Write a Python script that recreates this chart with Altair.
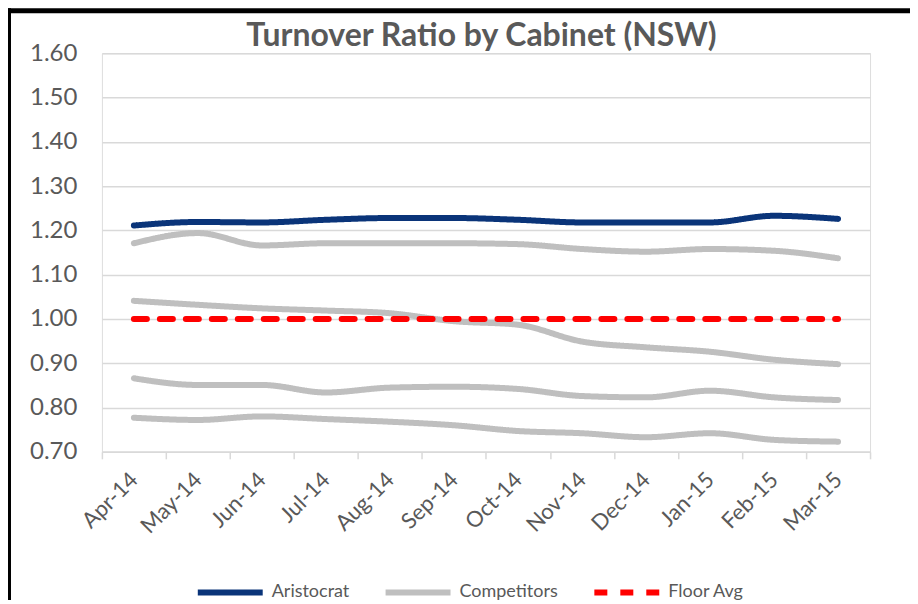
import altair as alt
import pandas as pd

months = ["Apr-14", "May-14", "Jun-14", "Jul-14", "Aug-14", "Sep-14",
          "Oct-14", "Nov-14", "Dec-14", "Jan-15", "Feb-15", "Mar-15"]
aristocrat = [1.211, 1.219, 1.218, 1.224, 1.228, 1.228, 1.224, 1.218, 1.218, 1.218, 1.233, 1.226]
comp_a = [1.171, 1.194, 1.166, 1.171, 1.171, 1.171, 1.169, 1.158, 1.152, 1.158, 1.154, 1.137]
comp_b = [1.041, 1.032, 1.024, 1.019, 1.013, 0.995, 0.987, 0.949, 0.936, 0.926, 0.908, 0.898]
comp_c = [0.866, 0.851, 0.851, 0.834, 0.845, 0.847, 0.842, 0.826, 0.823, 0.838, 0.823, 0.817]
comp_d = [0.777, 0.772, 0.780, 0.774, 0.768, 0.760, 0.747, 0.742, 0.733, 0.742, 0.727, 0.723]
floor_avg = [1.00, 1.00, 1.00, 1.00, 1.00, 1.00, 1.00, 1.00, 1.00, 1.00, 1.00, 1.00]
title_text = "Turnover Ratio by Cabinet (NSW)"

series_names = ["Aristocrat", "Competitors", "Floor Avg"]
series_colors = ["#0a3479", "#bfbfbf", "#ff0000"]
series_dash = [[1, 0], [1, 0], [13, 13]]

rows = []
for lid, (ser, vals) in enumerate([
    ("Competitors", comp_a), ("Competitors", comp_b), ("Competitors", comp_c),
    ("Competitors", comp_d), ("Aristocrat", aristocrat), ("Floor Avg", floor_avg)]):
    for m, v in zip(months, vals):
        rows.append({"month": m, "value": v, "series": ser, "line": f"{ser}-{lid}"})
df = pd.DataFrame(rows)

FONT = "Lato"
GREY_TXT = "#595959"
W, H = 769, 399

x_enc = alt.X("month:O", sort=months, bandPosition=0.5,
              scale=alt.Scale(type="band", paddingInner=0, paddingOuter=0),
              axis=alt.Axis(title=None, labelAngle=-45, labelAlign="right", labelBaseline="middle",
                            labelFontSize=22, labelFont=FONT,
                            labelColor=GREY_TXT, domainColor="#d9d9d9", domainWidth=1.5,
                            tickColor="#d9d9d9", tickWidth=1.5, tickSize=7, tickBand="extent",
                            labelPadding=17, grid=False))
y_enc = alt.Y("value:Q",
              scale=alt.Scale(domain=[0.70, 1.60], nice=False, zero=False),
              axis=alt.Axis(title=None, values=[0.7, 0.8, 0.9, 1.0, 1.1, 1.2, 1.3, 1.4, 1.5, 1.6],
                            format=".2f", labelFontSize=24, labelFont=FONT, labelColor=GREY_TXT,
                            domain=False, ticks=False, labelPadding=25, grid=True,
                            gridColor="#d9d9d9", gridWidth=1.5))
legend_kw = dict(title=None, orient="none", direction="horizontal",
                 legendX=93, legendY=504, symbolType="stroke",
                 symbolSize=4225, symbolStrokeWidth=6,
                 labelFontSize=18, labelFont=FONT, labelColor=GREY_TXT,
                 labelOffset=6, columnPadding=24)
color_enc = alt.Color("series:N", scale=alt.Scale(domain=series_names, range=series_colors),
                      legend=alt.Legend(**legend_kw))
dash_enc = alt.StrokeDash("series:N", scale=alt.Scale(domain=series_names, range=series_dash),
                          legend=alt.Legend(**legend_kw))

base = alt.Chart(df).encode(x=x_enc, y=y_enc, color=color_enc, strokeDash=dash_enc, detail="line:N")

grey = base.transform_filter(alt.datum.series == "Competitors").mark_line(
    strokeWidth=6, interpolate="monotone", strokeCap="round")
navy = base.transform_filter(alt.datum.series == "Aristocrat").mark_line(
    strokeWidth=6, interpolate="monotone", strokeCap="round")
red = base.transform_filter(alt.datum.series == "Floor Avg").mark_line(
    strokeWidth=6, strokeCap="round")

frame_df = pd.DataFrame({"k": [0]})
top_border = alt.Chart(frame_df).mark_rule(color="black", strokeWidth=5).encode(
    x=alt.value(-94), x2=alt.value(W + 40), y=alt.value(-42.5))
left_border = alt.Chart(frame_df).mark_rule(color="black", strokeWidth=3).encode(
    x=alt.value(-92.5), y=alt.value(-45), y2=alt.value(H + 150))
title = alt.Chart(frame_df).mark_text(
    text=title_text, font=FONT, fontSize=32, fontWeight="bold", color=GREY_TXT,
    align="center", baseline="alphabetic").encode(x=alt.value(380), y=alt.value(-7))

chart = alt.layer(grey, navy, red, top_border, left_border, title).properties(
    width=W, height=H,
    autosize=alt.AutoSizeParams(type="none"),
    padding={"left": 94, "top": 45, "right": 40, "bottom": 148},
).configure_view(stroke=None).configure(background="white")

chart.save("out.html", embed_options={"renderer": "svg", "actions": False})
